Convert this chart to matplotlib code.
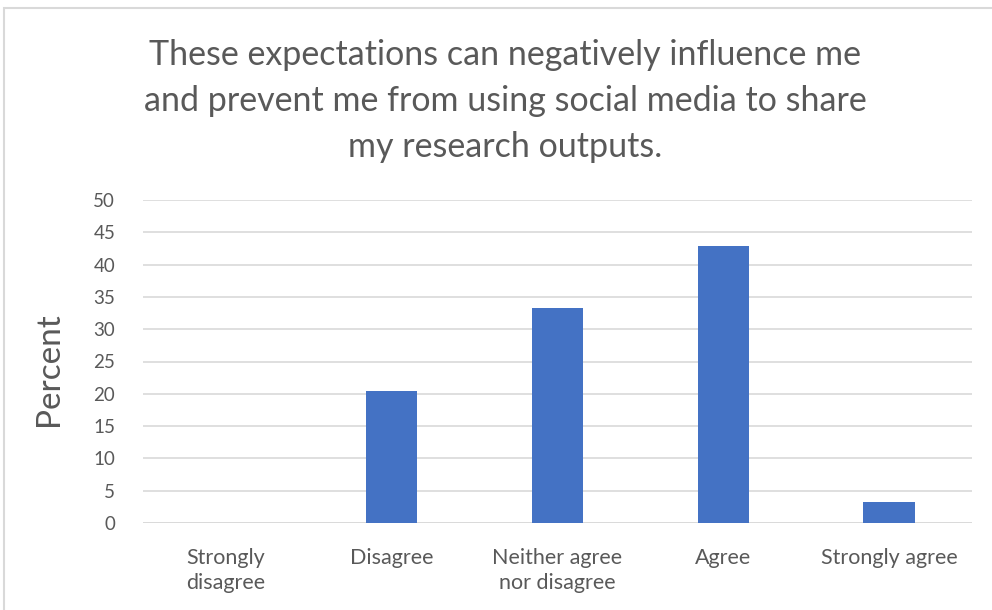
import matplotlib
matplotlib.use('Agg')
import matplotlib.pyplot as plt
from matplotlib.patches import Rectangle

# ---- data ----
categories = ['Strongly\ndisagree', 'Disagree', 'Neither agree\nnor disagree',
              'Agree', 'Strongly agree']
percent = [0.0, 20.5, 33.3, 42.9, 3.2]
yticks = list(range(0, 51, 5))
title = ('These expectations can negatively influence me\n'
         'and prevent me from using social media to share\n'
         'my research outputs.')

TEXT = '#595959'
GRID = '#d9d9d9'
BAR = '#4472c4'

plt.rcParams['font.family'] = ['Lato', 'DejaVu Sans']

fig = plt.figure(figsize=(9.92, 6.10), dpi=100)
# chart frame (only left/top edges visible in the reference)
fig.patches.append(Rectangle((4 / 992, -0.1), 1.2, 1 - 8 / 610 + 0.1,
                             transform=fig.transFigure, fill=False,
                             edgecolor=GRID, linewidth=1.5))

ax = fig.add_axes([143 / 992, 1 - 523 / 610, (972 - 143) / 992, (523 - 200) / 610])
x = range(len(categories))
ax.bar(x, percent, width=0.31, color=BAR, zorder=3)

ax.set_ylim(0, 50)
ax.set_xlim(-0.5, len(categories) - 0.5)
ax.set_yticks(yticks)
ax.set_yticklabels([str(t) for t in yticks], color=TEXT, fontsize=13.5)
ax.set_xticks(list(x))
ax.set_xticklabels(categories, color=TEXT, fontsize=15.5, linespacing=1.3)
ax.tick_params(axis='both', length=0)
ax.tick_params(axis='y', pad=20)
ax.tick_params(axis='x', pad=18)
ax.grid(axis='y', color=GRID, linewidth=1.2, zorder=0)
for s in ax.spines.values():
    s.set_visible(False)
ax.axhline(0, color=GRID, linewidth=1.2, zorder=1)

ax.set_ylabel('Percent', color=TEXT, fontsize=24)
ax.yaxis.set_label_coords(-0.095, 0.477)
fig.text(505 / 992, 1 - 101 / 610, title, ha='center', va='center',
         color=TEXT, fontsize=24.5, linespacing=1.55)

fig.savefig('out.png', dpi=100, facecolor='white')
